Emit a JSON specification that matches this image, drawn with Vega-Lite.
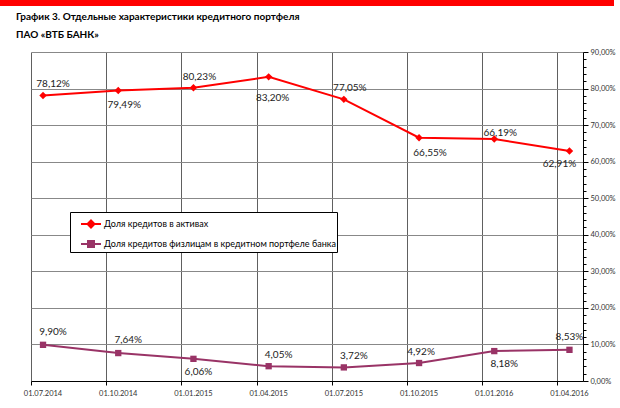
{
  "$schema": "https://vega.github.io/schema/vega-lite/v6.json",
  "padding": 0,
  "spacing": 46,
  "bounds": "flush",
  "center": true,
  "config": {
    "font": "Lato",
    "locale": {"number": {"decimal": ",", "thousands": " ", "grouping": [3], "currency": ["", " руб."]}}
  },
  "vconcat": [
    {
      "width": 614,
      "height": 6,
      "view": {"fill": "#ff0000", "stroke": null},
      "data": {"values": []},
      "mark": "point"
    },
    {
      "width": 552,
      "height": 329,
      "view": {"stroke": null},
      "title": {
        "text": ["График 3. Отдельные характеристики кредитного портфеля", "ПАО «ВТБ БАНК»"],
        "anchor": "start",
        "frame": "group",
        "dx": -15,
        "offset": 8,
        "font": "Lato",
        "fontSize": 10,
        "fontWeight": "bold",
        "color": "#000000",
        "lineHeight": 18
      },
      "data": {
        "values": [
          {"i": 0, "date": "01.07.2014", "series": "Доля кредитов в активах", "value": 0.7812},
          {"i": 1, "date": "01.10.2014", "series": "Доля кредитов в активах", "value": 0.7949},
          {"i": 2, "date": "01.01.2015", "series": "Доля кредитов в активах", "value": 0.8023},
          {"i": 3, "date": "01.04.2015", "series": "Доля кредитов в активах", "value": 0.8320},
          {"i": 4, "date": "01.07.2015", "series": "Доля кредитов в активах", "value": 0.7705},
          {"i": 5, "date": "01.10.2015", "series": "Доля кредитов в активах", "value": 0.6655},
          {"i": 6, "date": "01.01.2016", "series": "Доля кредитов в активах", "value": 0.6619},
          {"i": 7, "date": "01.04.2016", "series": "Доля кредитов в активах", "value": 0.6291},
          {"i": 0, "date": "01.07.2014", "series": "Доля кредитов физлицам в кредитном портфеле банка", "value": 0.0990},
          {"i": 1, "date": "01.10.2014", "series": "Доля кредитов физлицам в кредитном портфеле банка", "value": 0.0764},
          {"i": 2, "date": "01.01.2015", "series": "Доля кредитов физлицам в кредитном портфеле банка", "value": 0.0606},
          {"i": 3, "date": "01.04.2015", "series": "Доля кредитов физлицам в кредитном портфеле банка", "value": 0.0405},
          {"i": 4, "date": "01.07.2015", "series": "Доля кредитов физлицам в кредитном портфеле банка", "value": 0.0372},
          {"i": 5, "date": "01.10.2015", "series": "Доля кредитов физлицам в кредитном портфеле банка", "value": 0.0492},
          {"i": 6, "date": "01.01.2016", "series": "Доля кредитов физлицам в кредитном портфеле банка", "value": 0.0818},
          {"i": 7, "date": "01.04.2016", "series": "Доля кредитов физлицам в кредитном портфеле банка", "value": 0.0853}
        ]
      },
      "encoding": {
        "x": {
          "field": "i",
          "type": "quantitative",
          "scale": {"domain": [-0.16, 7.18], "nice": false, "zero": false},
          "axis": {
            "title": null,
            "values": [-0.16, 0.84, 1.84, 2.84, 3.84, 4.84, 5.84, 6.84],
            "labels": false,
            "grid": true,
            "gridColor": "#606060",
            "gridWidth": 1,
            "domainColor": "#000000",
            "tickColor": "#000000",
            "tickSize": 4
          }
        },
        "y": {
          "field": "value",
          "type": "quantitative",
          "scale": {"domain": [0, 0.9], "nice": false},
          "axis": {
            "orient": "right",
            "title": null,
            "values": [0, 0.02, 0.04, 0.06, 0.08, 0.1, 0.12, 0.14, 0.16, 0.18, 0.2, 0.22, 0.24, 0.26, 0.28, 0.3, 0.32, 0.34, 0.36, 0.38, 0.4, 0.42, 0.44, 0.46, 0.48, 0.5, 0.52, 0.54, 0.56, 0.58, 0.6, 0.62, 0.64, 0.66, 0.68, 0.7, 0.72, 0.74, 0.76, 0.78, 0.8, 0.82, 0.84, 0.86, 0.88, 0.9],
            "format": ".2%",
            "labelExpr": "round(datum.value * 100) % 10 === 0 ? datum.label : ''",
            "labelOverlap": false,
            "labelFont": "Lato",
            "labelFontSize": 7.5,
            "labelColor": "#333333",
            "labelPadding": 2,
            "grid": true,
            "gridColor": "#888888",
            "gridOpacity": {"condition": {"test": "round(datum.value * 100) % 10 === 0", "value": 1}, "value": 0},
            "domainColor": "#000000",
            "tickColor": "#000000",
            "tickSize": {"condition": {"test": "round(datum.value * 100) % 10 === 0", "value": 5}, "value": 3}
          }
        }
      },
      "layer": [
        {
          "mark": {"type": "line", "strokeWidth": 2},
          "encoding": {
            "detail": {"field": "series"},
            "color": {"condition": {"test": "datum.value > 0.5", "value": "#ff0000"}, "value": "#993366"}
          }
        },
        {
          "mark": {"type": "point", "filled": true, "opacity": 1},
          "encoding": {
            "color": {"condition": {"test": "datum.value > 0.5", "value": "#ff0000"}, "value": "#993366"},
            "shape": {"condition": {"test": "datum.value > 0.5", "value": "diamond"}, "value": "square"},
            "size": {"condition": {"test": "datum.value > 0.5", "value": 55}, "value": 40}
          }
        },
        {
          "mark": {"type": "point", "filled": true, "opacity": 0},
          "encoding": {
            "fill": {
              "field": "series", "type": "nominal",
              "scale": {"domain": ["Доля кредитов в активах", "Доля кредитов физлицам в кредитном портфеле банка"], "range": ["#ff0000", "#993366"]},
              "legend": {"orient": "none", "legendX": 70, "legendY": 212, "title": null, "padding": 1, "symbolOffset": 9, "fillColor": "#ffffff", "strokeColor": "#000000", "labelFont": "Lato", "labelFontSize": 9, "labelColor": "#000000", "labelLimit": 500, "symbolSize": 400, "symbolStrokeWidth": 2, "labelOffset": 2, "rowPadding": 1, "symbolOpacity": 1}
            },
            "stroke": {
              "field": "series", "type": "nominal",
              "scale": {"domain": ["Доля кредитов в активах", "Доля кредитов физлицам в кредитном портфеле банка"], "range": ["#ff0000", "#993366"]},
              "legend": {"orient": "none", "legendX": 70, "legendY": 212, "title": null, "padding": 1, "symbolOffset": 9, "fillColor": "#ffffff", "strokeColor": "#000000", "labelFont": "Lato", "labelFontSize": 9, "labelColor": "#000000", "labelLimit": 500, "symbolSize": 400, "symbolStrokeWidth": 2, "labelOffset": 2, "rowPadding": 1, "symbolOpacity": 1}
            },
            "shape": {
              "field": "series", "type": "nominal",
              "scale": {"domain": ["Доля кредитов в активах", "Доля кредитов физлицам в кредитном портфеле банка"], "range": ["M-1,0L1,0M0,-0.35L0.35,0L0,0.35L-0.35,0Z", "M-1,0L1,0M-0.3,-0.3L0.3,-0.3L0.3,0.3L-0.3,0.3Z"]},
              "legend": {"orient": "none", "legendX": 70, "legendY": 212, "title": null, "padding": 1, "symbolOffset": 9, "fillColor": "#ffffff", "strokeColor": "#000000", "labelFont": "Lato", "labelFontSize": 9, "labelColor": "#000000", "labelLimit": 500, "symbolSize": 400, "symbolStrokeWidth": 2, "labelOffset": 2, "rowPadding": 1, "symbolOpacity": 1}
            }
          }
        },
        {
          "mark": {
            "type": "text",
            "font": "Lato",
            "fontSize": 10,
            "color": "#222222",
            "dx": {"expr": "datum.value > 0.5 ? (datum.i === 7 ? -10 : datum.i === 3 ? 4 : datum.i === 5 ? 11 : datum.i === 0 ? 10 : 6) : (datum.i === 7 ? 0 : datum.i === 5 ? 2 : datum.i === 2 ? 5 : 10)"},
            "dy": {"expr": "datum.value > 0.5 ? (datum.i === 3 ? 21 : datum.i === 6 ? -6 : (datum.i === 1 || datum.i === 5) ? 15 : datum.i === 7 ? 13 : -11) : ((datum.i === 2 || datum.i === 6) ? 13 : (datum.i === 0 || datum.i === 1 || datum.i === 7) ? -13 : -11)"}
          },
          "encoding": {
            "text": {"field": "value", "type": "quantitative", "format": ".2%"}
          }
        },
        {
          "transform": [{"filter": "datum.value > 0.5"}],
          "mark": {"type": "text", "font": "Lato", "fontSize": 7.5, "color": "#333333", "dy": 13, "baseline": "middle"},
          "encoding": {
            "y": {"datum": 0},
            "text": {"field": "date", "type": "nominal"}
          }
        }
      ]
    }
  ]
}
